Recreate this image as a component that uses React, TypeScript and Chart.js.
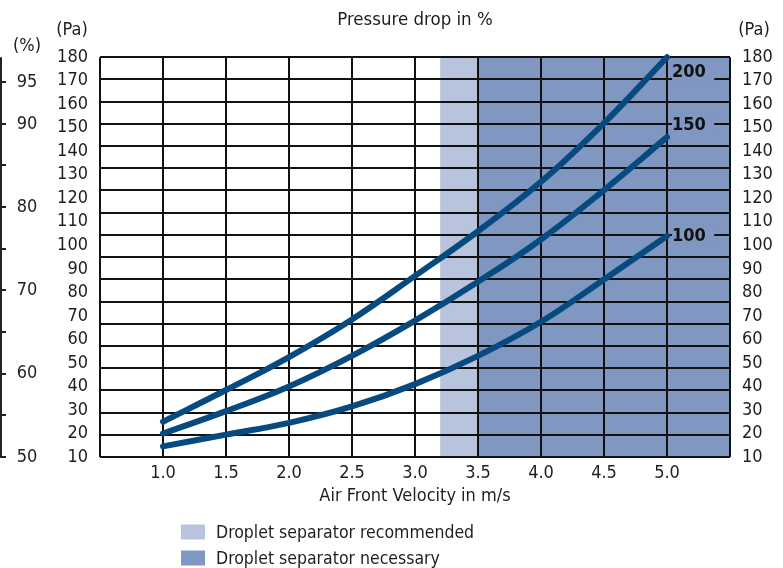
import React, { useEffect, useRef } from "react";
import { Chart, registerables } from "chart.js";

Chart.register(...registerables);

// ---- data ----
const velocities = [1.0, 1.5, 2.0, 2.5, 3.0, 3.5, 4.0, 4.5, 5.0];
const dp200 = [25, 38.5, 52.5, 68.5, 87, 106, 127, 152, 180];
const dp150 = [20, 29.5, 40, 53, 68, 84.5, 102.5, 123.5, 146];
const dp100 = [14.5, 19.5, 24.5, 31.5, 41, 53, 67.5, 85.5, 104];
const curveNames = ["200", "150", "100"];
// where the curve names sit, in grid-row units (text centre, grid row crossed)
const curveLabelRows = [17.35, 15, 10];
const curveLabelGridRows = [17, 15, 10];
const xTickValues = [1.0, 1.5, 2.0, 2.5, 3.0, 3.5, 4.0, 4.5, 5.0];
const pctTickValues = [50, 55, 60, 65, 70, 75, 80, 85, 90, 95];
const pctLabelValues = [50, 60, 70, 80, 90, 95];
const zoneBounds = [3.2, 3.5, 5.5];
const legendLabels = ["Droplet separator recommended", "Droplet separator necessary"];

// ---- styles ----
const FONT = "'Liberation Sans Narrow', 'DejaVu Sans Condensed', sans-serif";
const TEXT = "#1e1e1e";
const GRID = "#111111";
const CURVE = "#064a80";
const ZONE_COLORS = ["#b8c3dd", "#7f97c1"];

const decorPlugin = {
  id: "decor",
  beforeDraw(chart: any) {
    const { ctx, chartArea } = chart;
    const x = chart.scales.x;
    ctx.save();
    for (let i = 0; i < zoneBounds.length - 1; i++) {
      const x0 = x.getPixelForValue(zoneBounds[i]);
      const x1 = x.getPixelForValue(zoneBounds[i + 1]);
      ctx.fillStyle = ZONE_COLORS[i];
      ctx.fillRect(x0, chartArea.top, x1 - x0, chartArea.bottom - chartArea.top);
    }
    ctx.restore();
  },
  afterDatasetsDraw(chart: any) {
    const { ctx } = chart;
    const x = chart.scales.x;
    const g = chart.scales.yGrid;
    ctx.save();
    ctx.font = `bold 18px ${FONT}`;
    ctx.textBaseline = "middle";
    ctx.textAlign = "left";
    const bx0 = x.getPixelForValue(5.04);
    const bx1 = x.getPixelForValue(5.375);
    curveNames.forEach((name, i) => {
      const ty = g.getPixelForValue(curveLabelRows[i]);
      const ly = g.getPixelForValue(curveLabelGridRows[i]);
      const top = Math.min(ty - 10, ly - 3);
      const bot = Math.max(ty + 10, ly + 3);
      ctx.fillStyle = ZONE_COLORS[1];
      ctx.fillRect(bx0, top, bx1 - bx0, bot - top);
      ctx.fillStyle = "#111";
      ctx.fillText(name, bx0, ty + 1);
    });
    ctx.restore();
  },
  afterDraw(chart: any) {
    const { ctx, chartArea } = chart;
    const p = chart.scales.yPct;
    ctx.save();
    // percent axis at far left
    ctx.strokeStyle = "#222";
    ctx.lineWidth = 2;
    ctx.beginPath();
    ctx.moveTo(1, chartArea.top);
    ctx.lineTo(1, chartArea.bottom + 1);
    pctTickValues.forEach((v) => {
      const y = Math.round(p.getPixelForValue(v));
      ctx.moveTo(0, y);
      ctx.lineTo(6, y);
    });
    ctx.stroke();
    ctx.fillStyle = TEXT;
    ctx.font = `18px ${FONT}`;
    ctx.textAlign = "center";
    ctx.textBaseline = "middle";
    pctLabelValues.forEach((v) => {
      ctx.fillText(String(v), 27, p.getPixelForValue(v));
    });
    ctx.fillText("(%)", 27, 46);
    ctx.fillText("(Pa)", 72, 30);
    ctx.fillText("(Pa)", 754, 30);
    // legend
    ctx.textAlign = "left";
    ctx.font = `17.5px ${FONT}`;
    legendLabels.forEach((lab, i) => {
      const cy = 532 + i * 26;
      ctx.fillStyle = ZONE_COLORS[i];
      ctx.fillRect(181, cy - 7.5, 24, 15);
      ctx.fillStyle = TEXT;
      ctx.fillText(lab, 216, cy + 1);
    });
    ctx.restore();
  },
};

export default function App() {
  const ref = useRef<HTMLCanvasElement | null>(null);

  useEffect(() => {
    if (!ref.current) return;
    const mk = (vals: number[]) => velocities.map((v, i) => ({ x: v, y: vals[i] }));
    const ds = (label: string, vals: number[]) => ({
      label,
      data: mk(vals),
      borderColor: CURVE,
      borderWidth: 6,
      borderCapStyle: "round" as const,
      pointRadius: 0,
      fill: false,
      tension: 0.4,
      clip: false as any,
      xAxisID: "x",
      yAxisID: "yPa",
    });
    const tickFont = { family: FONT, size: 18 };
    const chart = new Chart(ref.current, {
      type: "line",
      data: {
        datasets: [ds(curveNames[0], dp200), ds(curveNames[1], dp150), ds(curveNames[2], dp100)],
      },
      options: {
        animation: false,
        responsive: false,
        devicePixelRatio: 1,
        layout: { padding: { top: 0, bottom: 51, left: 0, right: 0 } },
        plugins: {
          legend: { display: false },
          tooltip: { enabled: false },
          title: {
            display: true,
            text: "Pressure drop in %",
            fullSize: false,
            color: TEXT,
            font: { family: FONT, size: 18.5, weight: "normal" },
            padding: { top: 9, bottom: 26 },
          },
        },
        scales: {
          x: {
            type: "linear",
            min: 0.5,
            max: 5.5,
            afterBuildTicks: (s: any) => {
              s.ticks = [0.5, ...xTickValues, 5.5].map((v) => ({ value: v }));
            },
            ticks: {
              color: TEXT,
              font: tickFont,
              padding: 6,
              maxRotation: 0,
              autoSkip: false,
              callback: (v: any) => (xTickValues.includes(Number(v)) ? Number(v).toFixed(1) : ""),
            },
            grid: { color: GRID, lineWidth: 2, drawTicks: false },
            border: { display: false },
            title: {
              display: true,
              text: "Air Front Velocity in m/s",
              color: TEXT,
              font: { family: FONT, size: 18 },
              padding: { top: 0, bottom: 10 },
            },
            afterFit: (s: any) => {
              s.height = 60;
            },
          },
          yPct: {
            type: "linear",
            position: "left",
            display: false,
            min: 50,
            max: 98,
          },
          yGrid: {
            type: "linear",
            position: "left",
            min: 0,
            max: 18,
            ticks: { display: false, stepSize: 1 },
            grid: { color: GRID, lineWidth: 2, drawTicks: false },
            border: { display: false },
            afterFit: (s: any) => {
              s.width = 0;
            },
          },
          yPa: {
            type: "linear",
            position: "left",
            min: 10,
            max: 180,
            ticks: { stepSize: 10, autoSkip: false, color: TEXT, font: tickFont, padding: 12 },
            grid: { display: false, drawTicks: false },
            border: { display: false },
            afterFit: (s: any) => {
              s.width = 100;
            },
          },
          yPaR: {
            type: "linear",
            position: "right",
            min: 10,
            max: 180,
            ticks: { stepSize: 10, autoSkip: false, color: TEXT, font: tickFont, padding: 12 },
            grid: { display: false, drawTicks: false },
            border: { display: false },
            afterFit: (s: any) => {
              s.width = 53;
            },
          },
        },
      },
      plugins: [decorPlugin],
    });
    return () => chart.destroy();
  }, []);

  return (
    <div style={{ position: "fixed", left: 0, top: 0, width: 783, height: 568, background: "#fff" }}>
      <canvas ref={ref} width={783} height={568} style={{ width: 783, height: 568, display: "block" }} />
    </div>
  );
}
